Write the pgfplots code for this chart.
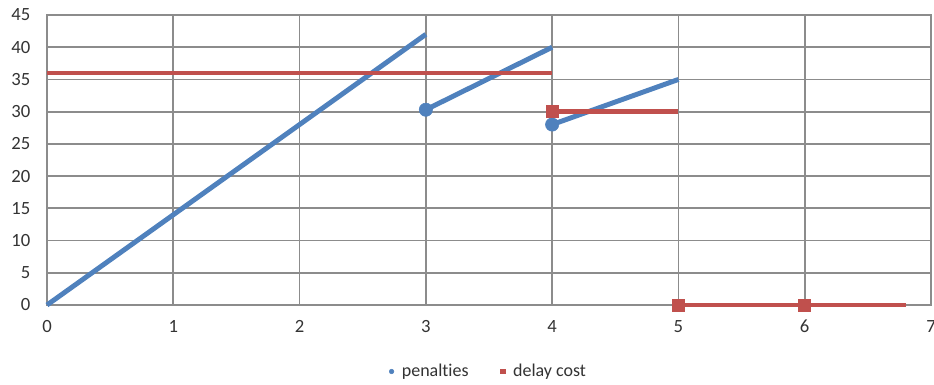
\documentclass[border=0pt]{standalone}
\usepackage{pgfplots}
\pgfplotsset{compat=1.18}
\usepackage{fontspec}
\setmainfont[Ligatures=NoCommon]{Carlito}
\definecolor{xlblue}{HTML}{4F81BD}
\definecolor{xlred}{HTML}{C0504D}
\definecolor{gridgray}{HTML}{8C8C8C}
\begin{document}
\begin{tikzpicture}
\begin{axis}[
  at={(0,0)}, anchor=south west,
  scale only axis, width=663pt, height=217.5pt,
  xmin=0, xmax=7, ymin=0, ymax=45,
  xtick={0,...,7}, ytick={0,5,...,45},
  grid=major, major grid style={gridgray, line width=1.3pt},
  axis line style={gridgray, line width=1.3pt},
  major tick length=0pt,
  tick label style={font=\fontsize{14}{16}\selectfont, text=black!80},
  /pgf/number format/assume math mode=true,
  yticklabel style={xshift=-9pt},
  xticklabel style={yshift=-8pt},
  legend style={at={(0.5,-0.185)}, anchor=north, draw=none, legend columns=2,
    font=\fontsize{13.5}{15}\selectfont, text=black!80,
    /tikz/every odd column/.append style={column sep=4pt},
    /tikz/every even column/.append style={column sep=22pt}},
  legend cell align=left,
  clip=false,
]
\addlegendimage{only marks, mark=*, mark size=1.7pt, color=xlblue}
\addlegendentry{penalties}
\addlegendimage{only marks, mark=square*, mark size=1.7pt, color=xlred}
\addlegendentry{delay cost}
% penalties
\addplot[xlblue, line width=3.7pt, forget plot] coordinates {(0,0) (3,42)};
\addplot[xlblue, line width=3.7pt, forget plot] coordinates {(3,30.3) (4,40)};
\addplot[xlblue, line width=3.7pt, forget plot] coordinates {(4,28) (5,35)};
\addplot[xlblue, only marks, mark=*, mark size=5pt, forget plot] coordinates {(3,30.3) (4,28)};
% delay cost
\addplot[xlred, line width=3.7pt, forget plot] coordinates {(0,36) (4,36)};
\addplot[xlred, line width=3.7pt, forget plot] coordinates {(4,30) (5,30)};
\addplot[xlred, line width=3.7pt, forget plot] coordinates {(5,0) (6,0) (6.8,0)};
\addplot[xlred, only marks, mark=square*, mark size=4.5pt, forget plot] coordinates {(4,30) (5,0) (6,0)};
\end{axis}
\pgfresetboundingbox
\path (-35.25pt,-60pt) rectangle (665.25pt,228.75pt);
\end{tikzpicture}
\end{document}
